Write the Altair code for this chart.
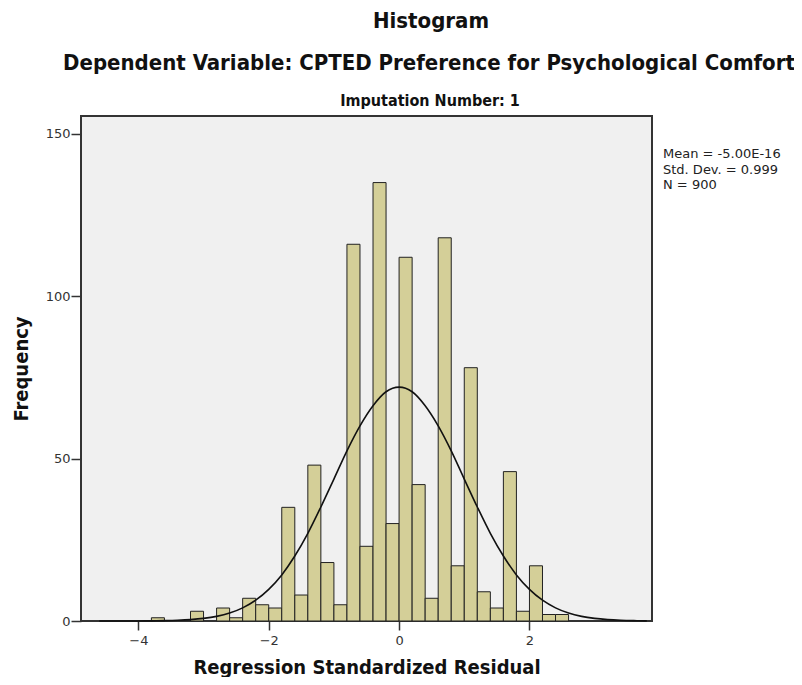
import altair as alt
import pandas as pd

# ---- data ----
bin_start = [-3.8, -3.2, -2.8, -2.6, -2.4, -2.2, -2.0, -1.8, -1.6, -1.4, -1.2, -1.0,
             -0.8, -0.6, -0.4, -0.2, 0.0, 0.2, 0.4, 0.6, 0.8, 1.0, 1.2, 1.4, 1.6,
             1.8, 2.0, 2.2, 2.4]
bin_width = 0.2
counts = [1, 3, 4, 1, 7, 5, 4, 35, 8, 48, 18, 5,
          116, 23, 135, 30, 112, 42, 7, 118, 17, 78, 9, 4, 46,
          3, 17, 2, 2]

curve_x = [-4.6, -4.4, -4.2, -4.0, -3.8, -3.6, -3.4, -3.2, -3.0, -2.8, -2.6, -2.4,
           -2.2, -2.0, -1.8, -1.6, -1.4, -1.2, -1.0, -0.8, -0.6, -0.4, -0.2, 0.0,
           0.2, 0.4, 0.6, 0.8, 1.0, 1.2, 1.4, 1.6, 1.8, 2.0, 2.2, 2.4, 2.6, 2.8,
           3.0, 3.2, 3.4, 3.6, 3.8]
curve_y = [0.0, 0.0, 0.01, 0.02, 0.05, 0.11, 0.22, 0.43, 0.8, 1.42, 2.44, 4.04,
           6.4, 9.74, 14.2, 20.0, 27.0, 35.1, 43.7, 52.4, 60.1, 66.3, 70.6, 72.0,
           70.6, 66.3, 60.1, 52.4, 43.7, 35.1, 27.0, 20.0, 14.2, 9.74, 6.4, 4.04,
           2.44, 1.42, 0.8, 0.43, 0.22, 0.11, 0.05]

x_ticks = [-4, -2, 0, 2]
y_ticks = [0, 50, 100, 150]

title_text = "Histogram"
subtitle_text = "Dependent Variable: CPTED Preference for Psychological Comfort"
panel_text = "Imputation Number: 1"
stats_lines = ["Mean = -5.00E-16", "Std. Dev. = 0.999", "N = 900"]
x_title = "Regression Standardized Residual"
y_title = "Frequency"

# ---- tables ----
bars = pd.DataFrame({
    "start": bin_start,
    "end": [s + bin_width for s in bin_start],
    "count": counts,
})
curve = pd.DataFrame({"x": curve_x, "y": curve_y})

W, H = 571, 505
TITLE_FONT = "DejaVu Sans Condensed, Liberation Sans, sans-serif"
SMALL_FONT = "DejaVu Sans, sans-serif"

xscale = alt.Scale(domain=[-4.88, 3.88], nice=False, zero=False)
yscale = alt.Scale(domain=[0, 155.5], nice=False, zero=False)

xaxis = alt.Axis(values=x_ticks, format="d", title=x_title, grid=False, domain=False,
                 tickSize=9, tickColor="#333", tickWidth=1.5,
                 labelFont=SMALL_FONT, labelFontSize=13, labelColor="#333",
                 labelPadding=4,
                 titleFont=TITLE_FONT, titleFontSize=20, titleFontWeight="bold",
                 titleColor="#111", titleY=52, titleBaseline="alphabetic")
yaxis = alt.Axis(values=y_ticks, format="d", title=y_title, grid=False, domain=False,
                 tickSize=10, tickColor="#333", tickWidth=1.5,
                 labelFont=SMALL_FONT, labelFontSize=13, labelColor="#333",
                 labelPadding=1,
                 titleFont=TITLE_FONT, titleFontSize=20, titleFontWeight="bold",
                 titleColor="#111", titleX=-54, titleBaseline="alphabetic")

bar_layer = alt.Chart(bars).mark_bar(
    fill="#D4CF98", stroke="#222", strokeWidth=1, opacity=1
).encode(
    x=alt.X("start:Q", scale=xscale, axis=xaxis),
    x2="end:Q",
    y=alt.Y("count:Q", scale=yscale, axis=yaxis, stack=None),
    y2=alt.datum(0),
)

curve_layer = alt.Chart(curve).mark_line(
    color="#111", strokeWidth=1.6, interpolate="monotone"
).encode(
    x=alt.X("x:Q", scale=xscale),
    y=alt.Y("y:Q", scale=yscale),
)

def label(text, x, y, size, weight="bold", align="center", font=TITLE_FONT, color="#111"):
    return alt.Chart(pd.DataFrame({"t": [text]})).mark_text(
        font=font, fontSize=size, fontWeight=weight, align=align,
        baseline="alphabetic", color=color
    ).encode(text="t:N", x=alt.value(x), y=alt.value(y))

layers = [bar_layer, curve_layer,
          label(title_text, 350, -88, 22),
          label(subtitle_text, 348, -46, 22),
          label(panel_text, 349, -10, 16)]
for i, line in enumerate(stats_lines):
    layers.append(label(line, 582, 42 + i * 15.5, 13, weight="normal",
                        align="left", font=SMALL_FONT, color="#222"))

chart = alt.layer(*layers).properties(
    width=W, height=H,
    autosize=alt.AutoSizeParams(type="none"),
    padding={"left": 73, "top": 108, "right": 142, "bottom": 56},
).configure(background="white").configure_view(
    fill="#F0F0F0", stroke="#333", strokeWidth=2
)

chart.save("out.html", embed_options={"renderer": "svg", "actions": False})
